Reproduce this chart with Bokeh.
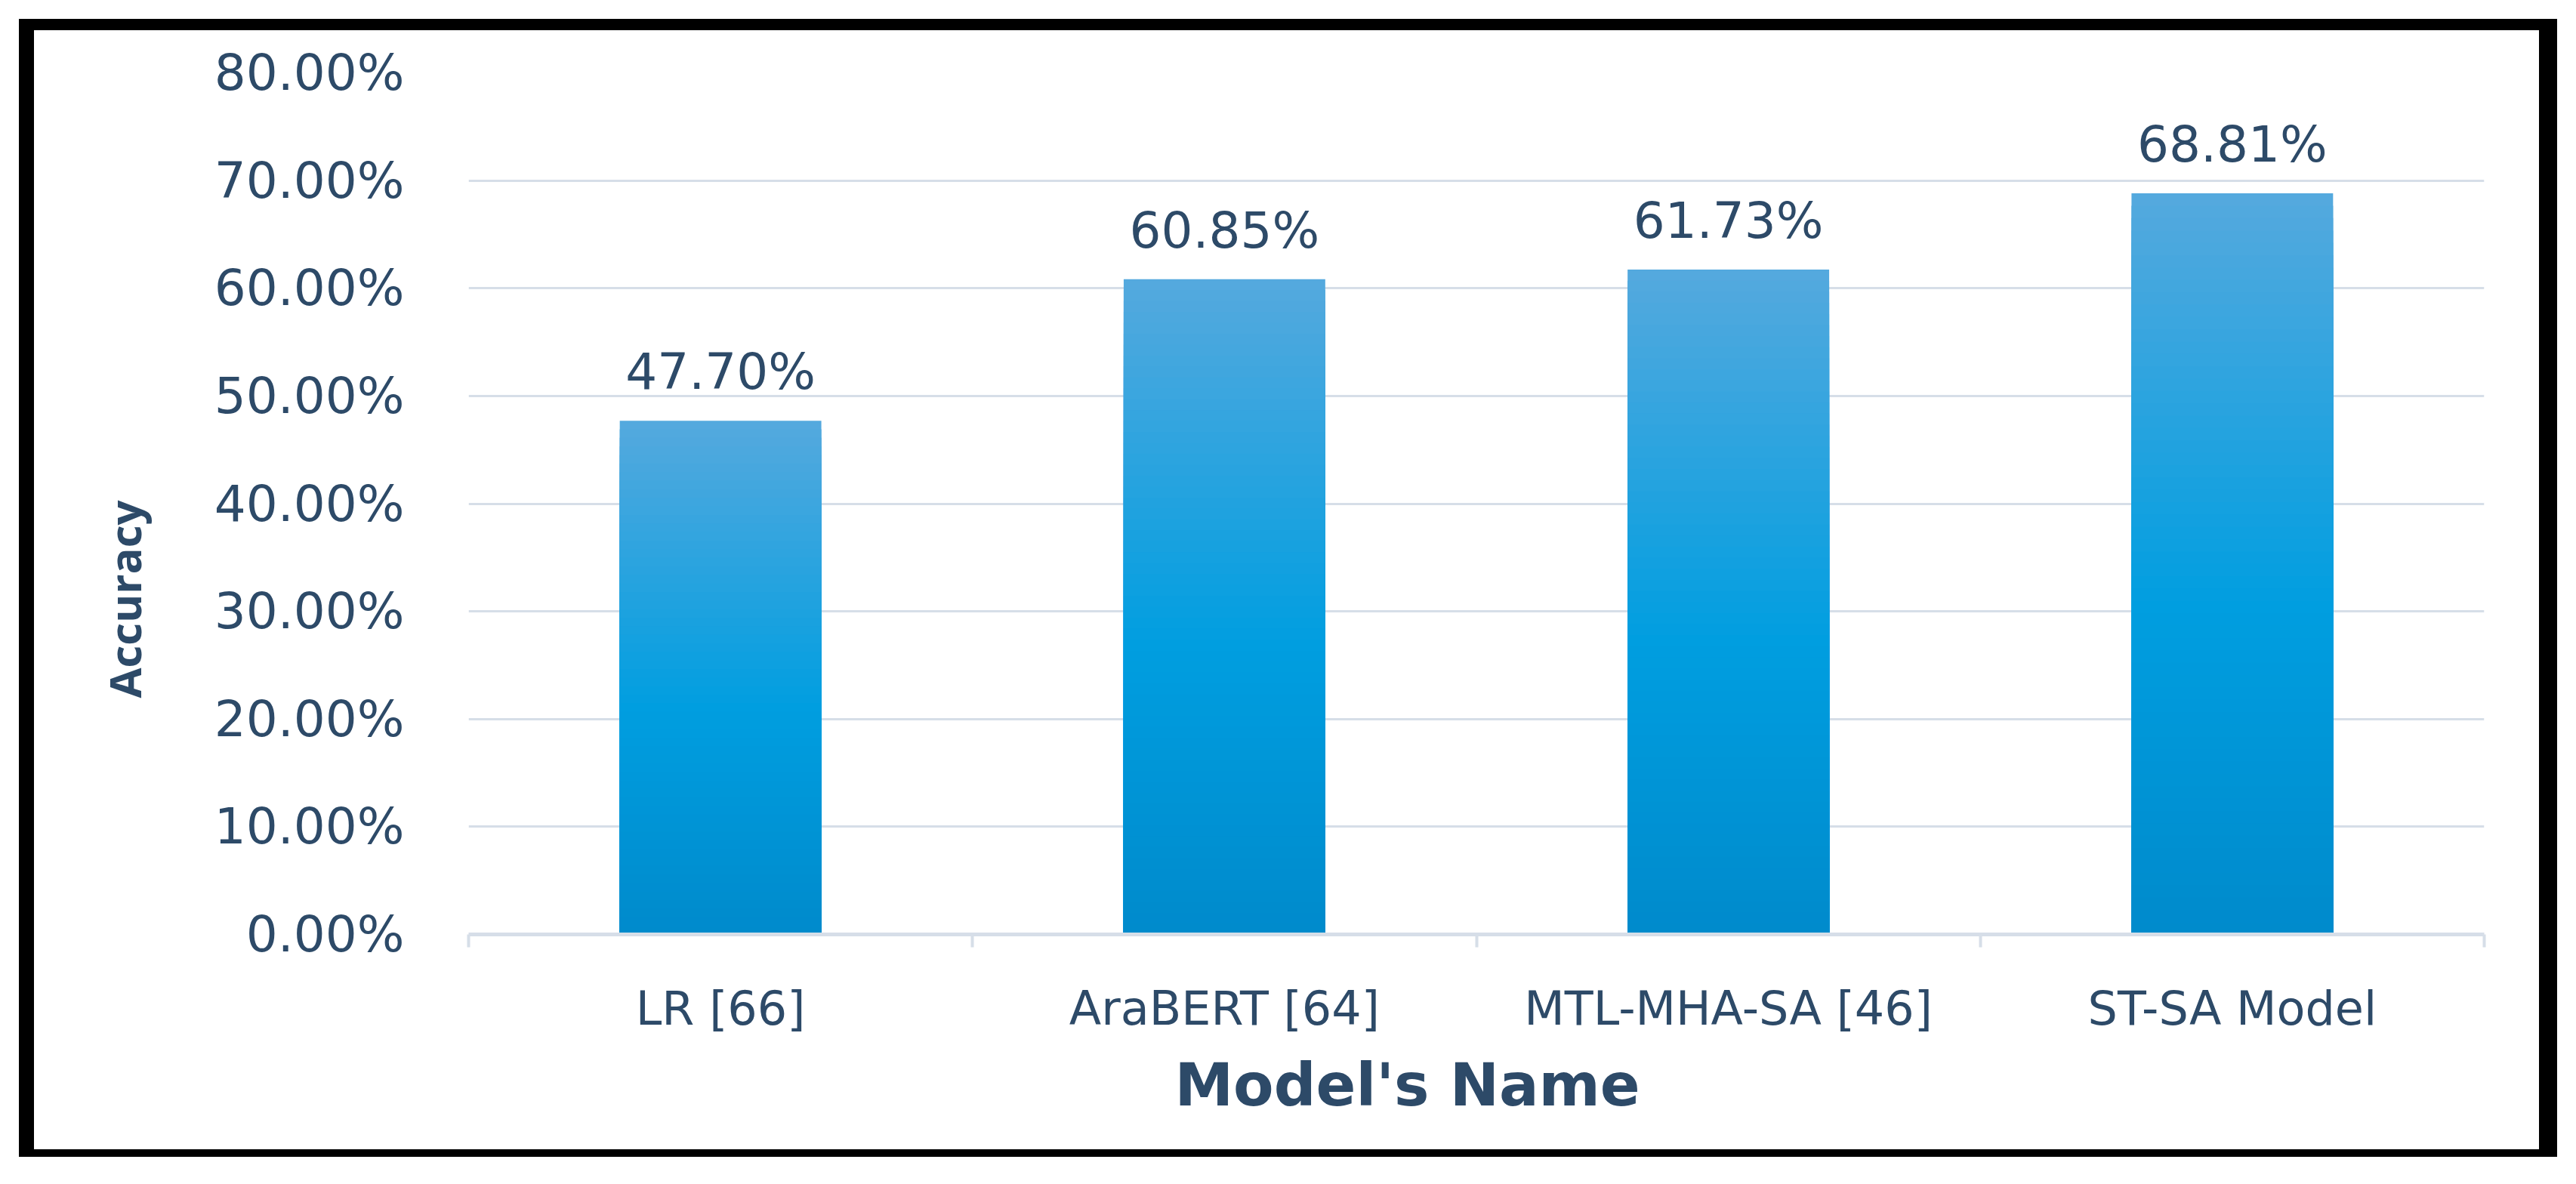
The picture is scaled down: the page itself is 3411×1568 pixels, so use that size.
from bokeh.plotting import figure
from bokeh.models import FixedTicker, LabelSet, Range1d, ColumnDataSource, Title
from bokeh.embed import file_html
from bokeh.resources import INLINE
from bokeh.core.properties import value

# ---- data ----
models = ["LR [66]", "AraBERT [64]", "MTL-MHA-SA [46]", "ST-SA Model"]
accuracy = [47.70, 60.85, 61.73, 68.81]
value_labels = ["47.70%", "60.85%", "61.73%", "68.81%"]
y_ticks = [0, 10, 20, 30, 40, 50, 60, 70, 80]
y_tick_labels = ["0.00%", "10.00%", "20.00%", "30.00%", "40.00%",
                 "50.00%", "60.00%", "70.00%", "80.00%"]
x_title = "Model's Name"
y_title = "Accuracy"

# ---- styles ----
TEXT = "#2D4A68"
GRID = "#D6DEE8"
GRAD_STOPS = [(0.0, (0x00, 0x8A, 0xCB)), (0.45, (0x00, 0x9E, 0xE0)), (1.0, (0x54, 0xA9, 0xDE))]
N_SLICES = 60


def grad_color(t):
    for (t0, c0), (t1, c1) in zip(GRAD_STOPS[:-1], GRAD_STOPS[1:]):
        if t0 <= t <= t1:
            f = (t - t0) / (t1 - t0)
            r, g, b = (round(a + (b_ - a) * f) for a, b_ in zip(c0, c1))
            return "#%02x%02x%02x" % (r, g, b)
    return "#%02x%02x%02x" % GRAD_STOPS[-1][1]


centers = [i + 0.5 for i in range(len(models))]
bounds = [float(i) for i in range(len(models) + 1)]

p = figure(width=3317, height=1482,
           x_range=Range1d(0, len(models)), y_range=Range1d(0, 80),
           output_backend="svg", toolbar_location=None,
           min_border_left=569, min_border_right=73,
           min_border_top=56, min_border_bottom=285)
p.margin = (40, 0, 0, 45)
p.styles = {"box-shadow": ("-20px 0 0 0 #000, 24px 0 0 0 #000, 0 -15px 0 0 #000, 0 10px 0 0 #000, "
                           "-20px -15px 0 0 #000, 24px -15px 0 0 #000, -20px 10px 0 0 #000, 24px 10px 0 0 #000")}
p.outline_line_color = None
p.background_fill_color = "white"
p.border_fill_color = "white"

# main bars
src = ColumnDataSource(dict(x=centers, top=accuracy, name=models, lab=value_labels))
p.vbar(x="x", top="top", bottom=0, width=0.4, source=src,
       fill_color=grad_color(1.0), line_color=None)

# gradient overlay: nested slices from the bar top down to the base
gx, gtop, gcol = [], [], []
for xc, v in zip(centers, accuracy):
    for k in range(1, N_SLICES):
        t = 1.0 - k / N_SLICES
        gx.append(xc)
        gtop.append(v * t)
        gcol.append(grad_color(t))
p.vbar(x=gx, top=gtop, bottom=0, width=0.4, fill_color=gcol, line_color=None)

# value labels
labels = LabelSet(x="x", y="top", text="lab", source=src,
                  text_align="center", text_baseline="alphabetic", y_offset=42,
                  text_font=value("DejaVu Sans"), text_font_size=value("66px"),
                  text_color=TEXT)
p.add_layout(labels)

# y axis
yax = p.yaxis[0]
yax.ticker = FixedTicker(ticks=y_ticks)
yax.major_label_overrides = dict(zip(y_ticks, y_tick_labels))
yax.axis_line_color = None
yax.major_tick_line_color = None
yax.minor_tick_line_color = None
yax.major_tick_out = 0
yax.major_tick_in = 0
yax.major_label_standoff = 85
yax.major_label_text_font = "DejaVu Sans"
yax.major_label_text_font_size = "66px"
yax.major_label_text_color = TEXT

# x axis
xax = p.xaxis[0]
xax.ticker = FixedTicker(ticks=centers, minor_ticks=bounds)
xax.major_label_overrides = dict(zip(centers, models))
xax.major_tick_line_color = None
xax.major_tick_out = 0
xax.major_tick_in = 0
xax.minor_tick_line_color = GRID
xax.minor_tick_line_width = 4
xax.minor_tick_out = 17
xax.minor_tick_in = 0
xax.axis_line_color = GRID
xax.axis_line_width = 5
xax.major_label_standoff = 44
xax.major_label_text_font = "DejaVu Sans"
xax.major_label_text_font_size = "62px"
xax.major_label_text_color = TEXT

# axis titles as side titles, offset as in the reference
p.add_layout(Title(text=y_title, align="left", offset=313, standoff=154,
                   text_font="Open Sans", text_font_style="bold",
                   text_font_size="58px", text_color=TEXT), "left")
p.add_layout(Title(text=x_title, align="left", offset=935, standoff=30,
                   text_font="DejaVu Sans", text_font_style="bold",
                   text_font_size="78px", text_color=TEXT), "below")

# grid
p.xgrid.visible = False
p.ygrid.ticker = FixedTicker(ticks=y_ticks)
p.ygrid.grid_line_color = GRID
p.ygrid.grid_line_width = 3

open("out.html", "w").write(file_html(p, INLINE))
